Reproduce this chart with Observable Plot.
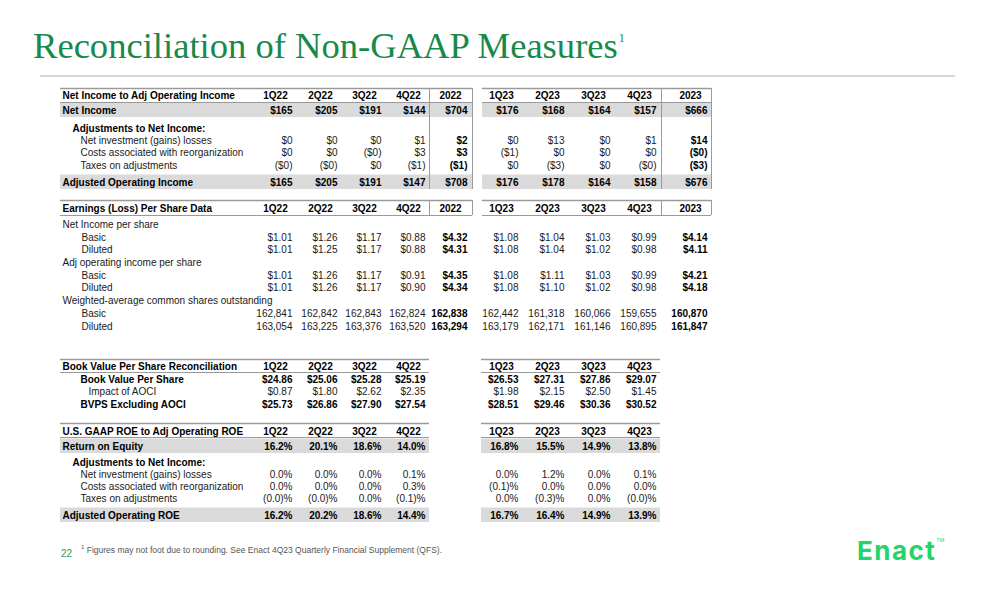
<!DOCTYPE html>
<html>
<head>
<meta charset="utf-8">
<script src="https://cdn.jsdelivr.net/npm/d3@7"></script>
<script src="https://cdn.jsdelivr.net/npm/@observablehq/plot@0.6"></script>
<style>
html,body{margin:0;padding:0;background:#fff;}
body{width:1008px;height:612px;position:relative;overflow:hidden;font-family:"Liberation Sans",Arial,sans-serif;}
#title{position:absolute;left:33px;top:28px;font-family:"Liberation Serif","Times New Roman",serif;font-size:36.6px;color:#17894b;white-space:nowrap;line-height:1;}
#title sup{font-size:12px;vertical-align:top;position:relative;top:4px;margin-left:1px;}
#hr{position:absolute;left:40px;top:75px;width:915px;height:2px;background:#d6d6d6;}
#chart{position:absolute;left:0;top:80px;}
#note{position:absolute;left:81px;top:544px;font-size:8.5px;color:#555;white-space:nowrap;}
#page{position:absolute;left:61px;top:548px;font-size:10px;color:#2b9a5c;}
#logo{position:absolute;left:857px;top:538px;font-family:Inter,"Liberation Sans",sans-serif;font-weight:700;font-size:26px;color:#22d46b;letter-spacing:1.5px;line-height:1;white-space:nowrap;}
#logo sup{font-size:5px;vertical-align:top;font-weight:400;letter-spacing:0;}
</style>
</head>
<body>
<div id="title">Reconciliation of Non-GAAP Measures<sup>1</sup></div>
<div id="hr"></div>
<div id="chart"></div>
<div id="page">22</div>
<div id="note"><sup style="font-size:6px">1</sup> Figures may not foot due to rounding. See Enact 4Q23 Quarterly Financial Supplement (QFS).</div>
<div id="logo">Enact<sup>TM</sup></div>
<script>
// ---------------- DATA ----------------
const quarters22 = ["1Q22","2Q22","3Q22","4Q22"];
const quarters23 = ["1Q23","2Q23","3Q23","4Q23"];
const year22 = "2022";
const year23 = "2023";

const incomeTitle = "Net Income to Adj Operating Income";
const incomeLabels = ["Net Income","Adjustments to Net Income:","Net investment (gains) losses","Costs associated with reorganization","Taxes on adjustments","Adjusted Operating Income"];
const netIncome     = ["$165","$205","$191","$144","$704","$176","$168","$164","$157","$666"];
const netInvestment = ["$0","$0","$0","$1","$2","$0","$13","$0","$1","$14"];
const reorgCosts    = ["$0","$0","($0)","$3","$3","($1)","$0","$0","$0","($0)"];
const taxesAdj      = ["($0)","($0)","$0","($1)","($1)","$0","($3)","$0","($0)","($3)"];
const adjOpIncome   = ["$165","$205","$191","$147","$708","$176","$178","$164","$158","$676"];

const epsTitle = "Earnings (Loss) Per Share Data";
const epsLabels = ["Net Income per share","Basic","Diluted","Adj operating income per share","Basic","Diluted","Weighted-average common shares outstanding","Basic","Diluted"];
const niBasic       = ["$1.01","$1.26","$1.17","$0.88","$4.32","$1.08","$1.04","$1.03","$0.99","$4.14"];
const niDiluted     = ["$1.01","$1.25","$1.17","$0.88","$4.31","$1.08","$1.04","$1.02","$0.98","$4.11"];
const aoiBasic      = ["$1.01","$1.26","$1.17","$0.91","$4.35","$1.08","$1.11","$1.03","$0.99","$4.21"];
const aoiDiluted    = ["$1.01","$1.26","$1.17","$0.90","$4.34","$1.08","$1.10","$1.02","$0.98","$4.18"];
const sharesBasic   = ["162,841","162,842","162,843","162,824","162,838","162,442","161,318","160,066","159,655","160,870"];
const sharesDiluted = ["163,054","163,225","163,376","163,520","163,294","163,179","162,171","161,146","160,895","161,847"];

const bvpsTitle = "Book Value Per Share Reconciliation";
const bvpsLabels = ["Book Value Per Share","Impact of AOCI","BVPS Excluding AOCI"];
const bvps       = ["$24.86","$25.06","$25.28","$25.19","$26.53","$27.31","$27.86","$29.07"];
const aociImpact = ["$0.87","$1.80","$2.62","$2.35","$1.98","$2.15","$2.50","$1.45"];
const bvpsExAoci = ["$25.73","$26.86","$27.90","$27.54","$28.51","$29.46","$30.36","$30.52"];

const roeTitle = "U.S. GAAP ROE to Adj Operating ROE";
const roeLabels = ["Return on Equity","Adjustments to Net Income:","Net investment (gains) losses","Costs associated with reorganization","Taxes on adjustments","Adjusted Operating ROE"];
const roe       = ["16.2%","20.1%","18.6%","14.0%","16.8%","15.5%","14.9%","13.8%"];
const roeNetInv = ["0.0%","0.0%","0.0%","0.1%","0.0%","1.2%","0.0%","0.1%"];
const roeReorg  = ["0.0%","0.0%","0.0%","0.3%","(0.1)%","0.0%","0.0%","0.0%"];
const roeTaxes  = ["(0.0)%","(0.0)%","0.0%","(0.1)%","0.0%","(0.3)%","0.0%","(0.0)%"];
const adjRoe    = ["16.2%","20.2%","18.6%","14.4%","16.7%","16.4%","14.9%","13.9%"];

// ---------------- LAYOUT ----------------
const colsYear = [...quarters22, year22, ...quarters23, year23];
const colsQ = [...quarters22, ...quarters23];
const valueRight = {"1Q22":292,"2Q22":337,"3Q22":381,"4Q22":425,"2022":467,"1Q23":518,"2Q23":564,"3Q23":610,"4Q23":656,"2023":707};
const yearKeys = new Set([year22, year23]);

const tables = [
  {title: incomeTitle, cols: colsYear, top: 88, hdr: 95, hdrBottom: 102, boxEnd: 189,
   rows: [
     {label: incomeLabels[0], vals: netIncome, y: 110, x: 62, bold: true, band: true},
     {label: incomeLabels[1], y: 128, x: 72, bold: true},
     {label: incomeLabels[2], vals: netInvestment, y: 140, x: 80},
     {label: incomeLabels[3], vals: reorgCosts, y: 152.5, x: 80},
     {label: incomeLabels[4], vals: taxesAdj, y: 165.5, x: 80},
     {label: incomeLabels[5], vals: adjOpIncome, y: 182, x: 62, bold: true, band: true}
   ]},
  {title: epsTitle, cols: colsYear, top: 200, hdr: 208, hdrBottom: 215, boxEnd: 215,
   rows: [
     {label: epsLabels[0], y: 224, x: 62},
     {label: epsLabels[1], vals: niBasic, y: 237, x: 81},
     {label: epsLabels[2], vals: niDiluted, y: 249.5, x: 81},
     {label: epsLabels[3], y: 262, x: 62},
     {label: epsLabels[4], vals: aoiBasic, y: 275, x: 81},
     {label: epsLabels[5], vals: aoiDiluted, y: 287, x: 81},
     {label: epsLabels[6], y: 300.5, x: 62},
     {label: epsLabels[7], vals: sharesBasic, y: 313.5, x: 81},
     {label: epsLabels[8], vals: sharesDiluted, y: 326, x: 81}
   ]},
  {title: bvpsTitle, cols: colsQ, top: 359, hdr: 366, hdrBottom: 372,
   rows: [
     {label: bvpsLabels[0], vals: bvps, y: 379, x: 80, bold: true},
     {label: bvpsLabels[1], vals: aociImpact, y: 391.5, x: 88},
     {label: bvpsLabels[2], vals: bvpsExAoci, y: 404.5, x: 80, bold: true}
   ]},
  {title: roeTitle, cols: colsQ, top: 423, hdr: 431, hdrBottom: 437,
   rows: [
     {label: roeLabels[0], vals: roe, y: 446, x: 62, bold: true, band: true},
     {label: roeLabels[1], y: 462, x: 72, bold: true},
     {label: roeLabels[2], vals: roeNetInv, y: 474, x: 80},
     {label: roeLabels[3], vals: roeReorg, y: 486, x: 80},
     {label: roeLabels[4], vals: roeTaxes, y: 498, x: 80},
     {label: roeLabels[5], vals: adjRoe, y: 515, x: 62, bold: true, band: true}
   ]}
];

const texts = [];   // {x, y, text, bold, anchor}
const hLines = [];  // {x1, x2, y, w}
const vLines = [];  // {x, y1, y2}
const bands = [];   // {x1, x2, y1, y2}

for (const t of tables) {
  const withYear = t.cols.length === 10;
  const blocks = withYear ? [[60, 472], [482, 711]] : [[60, 429], [481, 660]];
  for (const [a, b] of blocks) {
    hLines.push({x1: a, x2: b, y: t.top, w: 1.6});
    hLines.push({x1: a, x2: b, y: t.hdrBottom, w: 1});
  }
  if (withYear) {
    for (const x of [429, 472, 661, 711]) vLines.push({x, y1: t.top, y2: t.boxEnd});
  }
  texts.push({x: 62, y: t.hdr, text: t.title, bold: true, anchor: "start"});
  for (const c of t.cols) texts.push({x: valueRight[c] - 17, y: t.hdr, text: c, bold: true, anchor: "middle"});
  for (const r of t.rows) {
    if (r.band) for (const [a, b] of blocks) bands.push({x1: a, x2: b, y1: r.y - 7.5, y2: r.y + 7});
    texts.push({x: r.x, y: r.y, text: r.label, bold: !!r.bold, anchor: "start"});
    if (r.vals) r.vals.forEach((v, i) => {
      const c = t.cols[i];
      texts.push({x: valueRight[c], y: r.y, text: v, bold: !!r.bold || (withYear && yearKeys.has(c)), anchor: "end"});
    });
  }
}

const common = {fontSize: 10, fontFamily: "Liberation Sans, Arial, sans-serif"};
const chart = Plot.plot({
  width: 1008, height: 460, margin: 0,
  x: {type: "linear", domain: [0, 1008], range: [0, 1008], axis: null},
  y: {type: "linear", domain: [80, 540], range: [0, 460], axis: null},
  marks: [
    Plot.rect(bands, {x1: "x1", x2: "x2", y1: "y1", y2: "y2", fill: "#dadada"}),
    Plot.ruleY(hLines.filter(d => d.w > 1), {y: "y", x1: "x1", x2: "x2", stroke: "#9a9a9a", strokeWidth: 1.6}),
    Plot.ruleY(hLines.filter(d => d.w <= 1), {y: "y", x1: "x1", x2: "x2", stroke: "#9a9a9a", strokeWidth: 1}),
    Plot.ruleX(vLines, {x: "x", y1: "y1", y2: "y2", stroke: "#9a9a9a", strokeWidth: 1}),
    ...["start", "middle", "end"].flatMap(anchor => [
      Plot.text(texts.filter(d => d.anchor === anchor && d.bold), {x: "x", y: "y", text: "text", textAnchor: anchor, fill: "#000", fontWeight: "bold", ...common}),
      Plot.text(texts.filter(d => d.anchor === anchor && !d.bold), {x: "x", y: "y", text: "text", textAnchor: anchor, fill: "#1a1a1a", ...common})
    ])
  ]
});
document.getElementById("chart").appendChild(chart);
</script>
</body>
</html>
